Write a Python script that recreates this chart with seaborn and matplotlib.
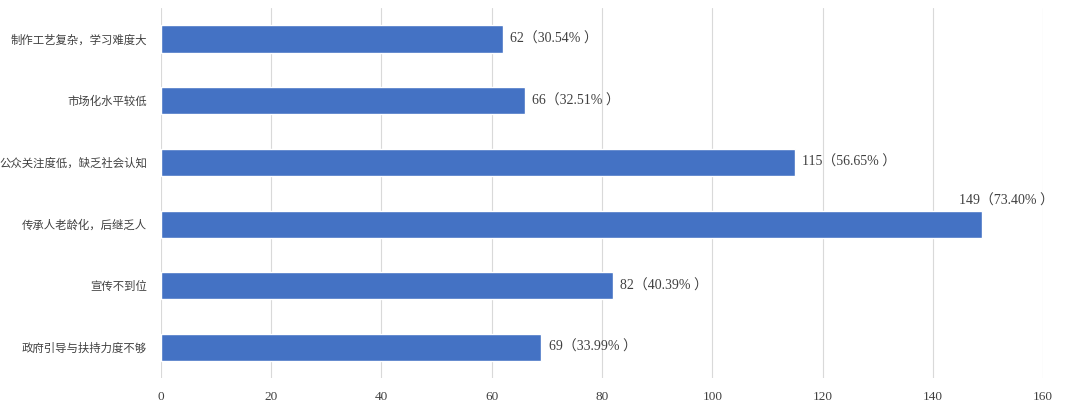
import matplotlib
matplotlib.use('Agg')
import matplotlib.pyplot as plt
import seaborn as sns
import pandas as pd

# Data
categories = ['制作工艺复杂，学习难度大', '市场化水平较低', '公众关注度低，缺乏社会认知',
              '传承人老龄化，后继乏人', '宣传不到位', '政府引导与扶持力度不够']
counts = [62, 66, 115, 149, 82, 69]
percents = ['30.54%', '32.51%', '56.65%', '73.40%', '40.39%', '33.99%']
x_ticks = [0, 20, 40, 60, 80, 100, 120, 140, 160]

df = pd.DataFrame({'category': categories, 'count': counts, 'pct': percents})

sns.set_theme(style='white')
plt.rcParams['font.family'] = ['Liberation Serif', 'Noto Sans CJK SC', 'DejaVu Sans']

fig = plt.figure(figsize=(10.68, 4.09), dpi=100)
ax = fig.add_axes([0.1507, 0.075, 0.826, 0.905])

sns.barplot(data=df, x='count', y='category', color='#4472C4', width=0.44,
            saturation=1, ax=ax, zorder=3)

ax.set_xlim(0, 160)
ax.set_xticks(x_ticks)
ax.set_ylim(5.5, -0.5)
ax.xaxis.grid(True, color='#D9D9D9', linewidth=0.8, zorder=0)
ax.set_axisbelow(True)
for s in ax.spines.values():
    s.set_visible(False)
ax.tick_params(axis='both', length=0, colors='#404040')
ax.tick_params(axis='x', labelsize=9.5, pad=9)
ax.tick_params(axis='y', labelsize=8.2, pad=10)
for lab in ax.get_yticklabels():
    lab.set_family(['Noto Sans CJK SC'])
ax.set_xlabel('')
ax.set_ylabel('')

for i, (c, p) in enumerate(zip(counts, percents)):
    text = f'{c}（{p} ）'
    if c > 140:
        ax.text(c + 4.3, i - 0.26, text, ha='center', va='bottom', fontsize=10,
                color='#404040')
    else:
        ax.text(c + 1.3, i, text, ha='left', va='center', fontsize=10,
                color='#404040')

fig.savefig('out.png', dpi=100)
